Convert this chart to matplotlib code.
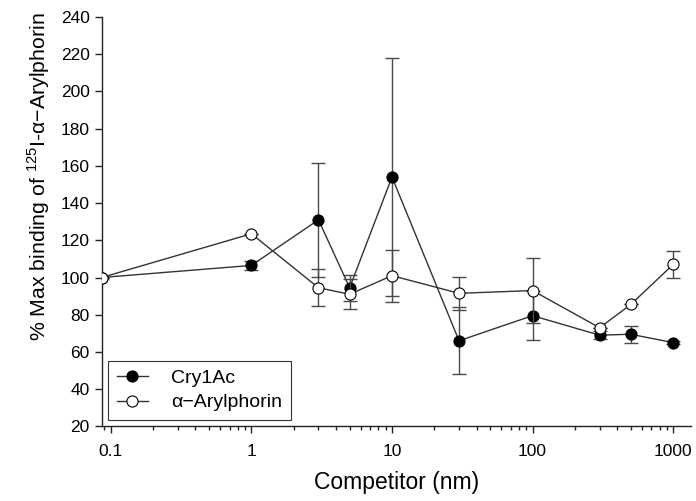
import matplotlib
matplotlib.use("Agg")
import matplotlib.pyplot as plt
import matplotlib.ticker as mticker

plt.rcParams['font.family'] = ['Liberation Sans', 'DejaVu Sans']
plt.rcParams['mathtext.fontset'] = 'custom'
plt.rcParams['mathtext.rm'] = 'Liberation Sans'

# competitor concentration (nm); the control sits at the left edge of the axis
conc = [0.086, 1, 3, 5, 10, 30, 100, 300, 500, 1000]

cry_val = [100, 106.5, 131, 94.5, 154, 66, 79.5, 69, 69.5, 65]
cry_err = [0, 2.5, 30.5, 7, 64, 18, 13, 2, 4.6, 1]

aryl_val = [100, 123.5, 94.5, 91, 101, 91.5, 93, 73, 85.5, 107]
aryl_err = [0, 0, 10, 8, 14, 9, 17.5, 0, 0, 7]

x_ticks = [0.1, 1, 10, 100, 1000]
x_labels = ['0.1', '1', '10', '100', '1000']
y_ticks = list(range(20, 241, 20))

fig = plt.figure(figsize=(6.96, 5.01), dpi=100)
ax = fig.add_axes([0.146, 0.149, 0.847, 0.817])

line_col = '#333333'
err_col = '#4a4a4a'


def draw_series(vals, errs, face, label, z):
    ax.errorbar(conc, vals, yerr=errs, fmt='none', ecolor=err_col,
                elinewidth=1.0, capsize=4.7, capthick=1.0, zorder=z)
    h, = ax.plot(conc, vals, '-o', color=line_col, lw=1.0, markersize=8,
                 markerfacecolor=face, markeredgecolor='black',
                 markeredgewidth=0.8, label=label, zorder=z + 0.5)
    return h


h1 = draw_series(cry_val, cry_err, 'black', 'Cry1Ac', 2)
h2 = draw_series(aryl_val, aryl_err, 'white', '\u03b1\u2212Arylphorin', 3)

ax.set_xscale('log')
ax.set_xlim(0.086, 1343)
ax.set_ylim(20, 240)

ax.xaxis.set_major_locator(mticker.FixedLocator(x_ticks))
ax.xaxis.set_major_formatter(mticker.FixedFormatter(x_labels))
ax.xaxis.set_minor_locator(mticker.LogLocator(base=10, subs=range(2, 10), numticks=20))
ax.xaxis.set_minor_formatter(mticker.NullFormatter())
ax.set_yticks(y_ticks)

for s in ['top', 'right']:
    ax.spines[s].set_visible(False)
for s in ['left', 'bottom']:
    ax.spines[s].set_linewidth(1.0)
    ax.spines[s].set_color('#222222')

ax.tick_params(axis='both', which='major', direction='out', length=5,
               width=1.0, labelsize=12.5, colors='#222222', labelcolor='black')
ax.tick_params(axis='x', which='minor', direction='out', length=3, width=1.0,
               colors='#222222')
ax.tick_params(axis='x', pad=8)

ax.set_xlabel('Competitor (nm)', fontsize=16.5, labelpad=8)
ax.set_ylabel('% Max binding of $^{\\mathregular{125}}$I-\u03b1\u2212Arylphorin',
              fontsize=15.3)
ax.yaxis.set_label_coords(-0.085, 0.61)

leg = ax.legend(handles=[h1, h2], loc='lower left',
                bbox_to_anchor=(0.011, 0.015), borderaxespad=0, fontsize=14,
                frameon=True, fancybox=False, edgecolor='black',
                handlelength=1.6, handletextpad=1.2, labelspacing=0.35,
                borderpad=0.45)
leg.get_frame().set_linewidth(0.8)

fig.savefig('out.png', dpi=100)
